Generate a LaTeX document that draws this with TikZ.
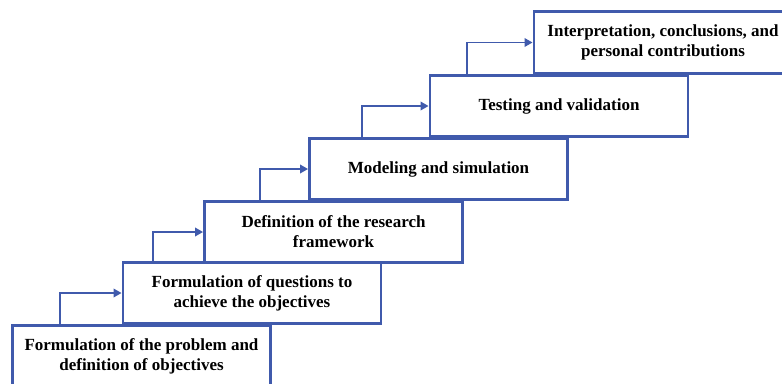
\documentclass[tikz,border=0pt]{standalone}
\usepackage{fontspec}
\setmainfont{Liberation Serif}
\usetikzlibrary{arrows.meta}
\definecolor{stepblue}{RGB}{64,90,172}
\begin{document}
\begin{tikzpicture}[x=1pt,y=-1pt,
  stepbox/.style={draw=stepblue,line width=2.9pt,fill=white,
    minimum width=258pt,minimum height=61.5pt,inner sep=0pt,
    align=center,font=\fontsize{17}{20}\selectfont\bfseries},
  flow/.style={draw=stepblue,line width=1.9pt,
    -{Triangle[length=8pt,width=8.5pt]}}]
\useasboundingbox (0,0) rectangle (782,383);
\path[clip] (0,0) rectangle (782,383);

% the six stages, climbing to the right
\node[stepbox] (s1) at (141.5,356) {Formulation of the problem and\\definition of objectives};
\node[stepbox] (s2) at (252,293) {Formulation of questions to\\achieve the objectives};
\node[stepbox] (s3) at (333.5,232) {Definition of the research\\framework};
\node[stepbox] (s4) at (438.5,169) {Modeling and simulation};
\node[stepbox] (s5) at (559,106) {Testing and validation};
\node[stepbox] (s6) at (663,42.5) {Interpretation, conclusions, and\\personal contributions};

% elbow arrows from each stage up to the next
\draw[flow] (s1.north west) ++(49,0) |- (s2.west);
\draw[flow] (s2.north west) ++(31,0) |- (s3.west);
\draw[flow] (s3.north west) ++(57,0) |- (s4.west);
\draw[flow] (s4.north west) ++(54,0) |- (s5.west);
\draw[flow] (s5.north west) ++(38,0) |- (s6.west);
\end{tikzpicture}
\end{document}
